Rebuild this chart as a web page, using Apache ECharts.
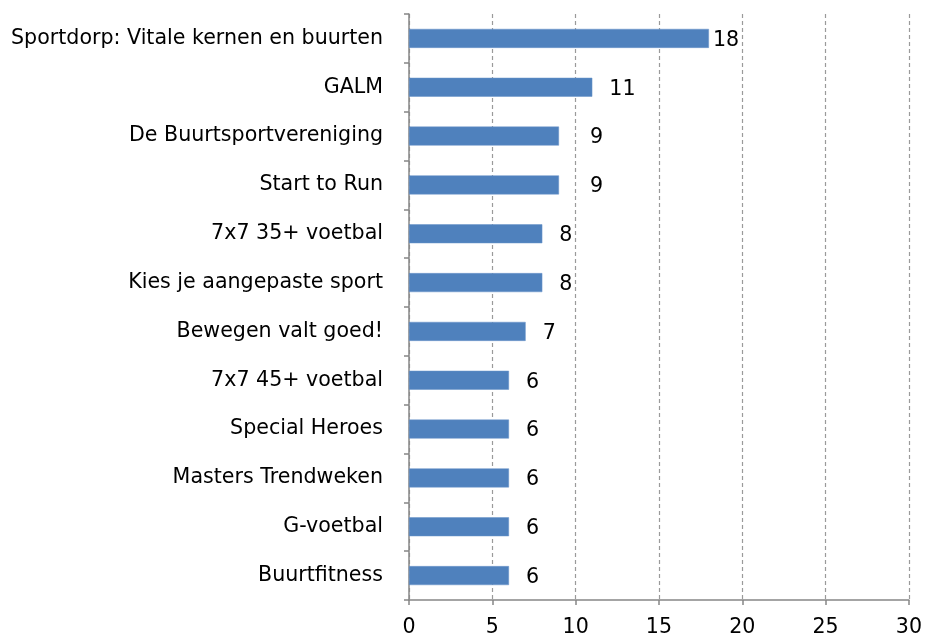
<!DOCTYPE html>
<html>
<head>
<meta charset="utf-8">
<script src="https://cdn.jsdelivr.net/npm/echarts@6/dist/echarts.min.js"></script>
<style>html,body{margin:0;padding:0;background:#fff}#c{width:925px;height:638px}</style>
</head>
<body>
<div id="c"></div>
<script>
var categories = [
  "Sportdorp: Vitale kernen en buurten",
  "GALM",
  "De Buurtsportvereniging",
  "Start to Run",
  "7x7 35+ voetbal",
  "Kies je aangepaste sport",
  "Bewegen valt goed!",
  "7x7 45+ voetbal",
  "Special Heroes",
  "Masters Trendweken",
  "G-voetbal",
  "Buurtfitness"
];
var values = [18, 11, 9, 9, 8, 8, 7, 6, 6, 6, 6, 6];
var xTicks = [0, 5, 10, 15, 20, 25, 30];

var font = "DejaVu Sans";
var labelGapByCategory = {
  "Sportdorp: Vitale kernen en buurten": 4,
  "De Buurtsportvereniging": 31,
  "Start to Run": 31
};
var cats = categories.slice().reverse();
var vals = values.slice().reverse();
var seriesData = vals.map(function (v, i) {
  var g = labelGapByCategory[cats[i]];
  return g === undefined ? v : { value: v, label: { distance: g } };
});

var chart = echarts.init(document.getElementById('c'));
chart.setOption({
  animation: false,
  grid: { left: 409, right: 15, top: 14, bottom: 37, containLabel: false },
  xAxis: {
    type: 'value',
    min: xTicks[0],
    max: xTicks[xTicks.length - 1],
    interval: 5,
    axisLine: { show: true, lineStyle: { color: '#878787', width: 1.5 } },
    axisTick: { show: true, length: 5, lineStyle: { color: '#878787', width: 1.5 } },
    axisLabel: { color: '#000', fontFamily: font, fontSize: 20.6, margin: 17 },
    splitLine: { show: true, lineStyle: { color: '#9a9a9a', type: [4, 3], width: 1.2 } }
  },
  yAxis: {
    type: 'category',
    data: cats,
    boundaryGap: true,
    axisLine: { show: true, lineStyle: { color: '#878787', width: 1.5 } },
    axisTick: { show: true, length: 5, lineStyle: { color: '#878787', width: 1.5 } },
    axisLabel: { color: '#000', fontFamily: font, fontSize: 20.6, margin: 26, padding: [4, 0, 0, 0] },
    splitLine: { show: false }
  },
  series: [{
    type: 'bar',
    data: seriesData,
    barWidth: 19,
    itemStyle: { color: '#4f81bd', borderColor: '#6a95c8', borderWidth: 0.5 },
    label: {
      show: true,
      position: 'right',
      distance: 17,
      offset: [0, 2],
      color: '#000',
      fontFamily: font,
      fontSize: 20.6
    }
  }]
});
</script>
</body>
</html>
